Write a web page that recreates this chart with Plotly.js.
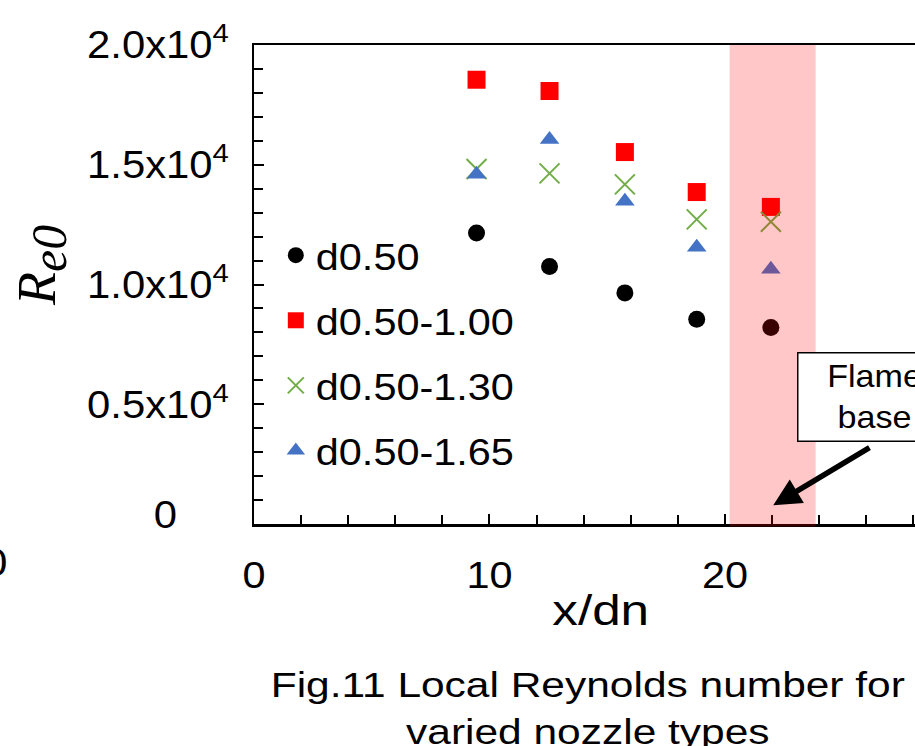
<!DOCTYPE html>
<html>
<head>
<meta charset="utf-8">
<script src="https://cdn.plot.ly/plotly-3.0.1.min.js"></script>
<style>
html,body{margin:0;padding:0;background:#fff;overflow:hidden;}
#chart{width:915px;height:746px;}
</style>
</head>
<body>
<div id="chart"></div>
<script>
// x/dn positions
const xPos = [9.45, 12.55, 15.75, 18.8, 21.95];
// series values (Re0)
const seriesNames = ["d0.50", "d0.50-1.00", "d0.50-1.30", "d0.50-1.65"];
const reD050      = [12150, 10750, 9650, 8550, 8200];
const reD050_100  = [18550, 18080, 15530, 13860, 13240];
const reD050_130  = [14820, 14640, 14180, 12720, 12620];
const reD050_165  = [14600, 16050, 13480, 11560, 10640];
// axis ticks
const yTickVals = [0, 5000, 10000, 15000, 20000];
const yTickText = ["0", "0.5x10<sup>4</sup>", "1.0x10<sup>4</sup>", "1.5x10<sup>4</sup>", "2.0x10<sup>4</sup>"];
const xTickVals = [0, 10, 20];
const xTickText = ["0", "10", "20"];
// flame base band (x/dn)
const bandX = [20.2, 23.85];
// arrow tip / tail
const arrowTip = [22.05, 780];
const arrowTail = [26.2, 3230];

const FONT = "Liberation Sans, Arial, sans-serif";

const traces = [
  {x: xPos, y: reD050, name: seriesNames[0], legendgroup: "a", mode: "markers", type: "scatter",
   marker: {symbol: "circle", size: 17, color: "#000000"}},
  {x: xPos, y: reD050_100, name: seriesNames[1], legendgroup: "b", mode: "markers", type: "scatter",
   marker: {symbol: "square", size: 18, color: "#FF0000"}},
  {x: xPos, y: reD050_130, name: seriesNames[2], legendgroup: "c", mode: "markers", type: "scatter",
   marker: {symbol: "x-thin-open", size: 20, color: "#70AD47", line: {color: "#70AD47", width: 2}}},
  {x: xPos, y: reD050_165, name: seriesNames[3], legendgroup: "d", mode: "markers", type: "scatter",
   marker: {symbol: "triangle-up", size: 17, color: "#4472C4"}}
];

const layout = {
  width: 915, height: 746,
  margin: {l: 254, r: 0, t: 45, b: 222},
  paper_bgcolor: "#ffffff", plot_bgcolor: "#ffffff",
  font: {family: FONT, color: "#000000", size: 38},
  showlegend: true,
  legend: {
    x: 0.033, y: 0.625, xanchor: "left", yanchor: "top",
    bgcolor: "rgba(0,0,0,0)", borderwidth: 0,
    font: {family: FONT, size: 37, color: "#000000"},
    traceorder: "grouped", tracegroupgap: 14
  },
  xaxis: {
    range: [0, 28.07],
    tickmode: "array", tickvals: xTickVals, ticktext: xTickText,
    ticks: "inside", ticklen: 10, tickwidth: 2, tickcolor: "#000",
    minor: {tickmode: "linear", tick0: 0, dtick: 2, ticks: "inside", ticklen: 9, tickwidth: 2, tickcolor: "#000"},
    showline: true, linecolor: "#000", linewidth: 2.5, mirror: true,
    showgrid: false, zeroline: false,
    ticklabelstandoff: 17,
    tickfont: {family: FONT, size: 37, color: "#000"}
  },
  yaxis: {
    range: [0, 20000],
    tickmode: "array", tickvals: yTickVals, ticktext: yTickText,
    ticks: "inside", ticklen: 10, tickwidth: 2, tickcolor: "#000",
    minor: {tickmode: "linear", tick0: 0, dtick: 1000, ticks: "inside", ticklen: 9, tickwidth: 2, tickcolor: "#000"},
    showline: true, linecolor: "#000", linewidth: 2.5,
    showgrid: false, zeroline: false,
    ticklabelstandoff: 15,
    tickfont: {family: FONT, size: 38, color: "#000"}
  },
  shapes: [
    {type: "rect", xref: "x", yref: "paper", x0: bandX[0], x1: bandX[1], y0: -0.005, y1: 1,
     fillcolor: "rgba(255,0,0,0.22)", line: {width: 0}, layer: "above"}
  ],
  annotations: [
    {text: "x/dn", xref: "paper", yref: "paper", x: (600-254)/661, y: -(610-524)/479,
     xanchor: "center", yanchor: "middle", showarrow: false,
     font: {family: FONT, size: 42, color: "#000"}},
    {text: "<i>R</i><sub><span style=\"font-size:50px\"><i>e0</i></span></sub>", xref: "paper", yref: "paper",
     x: (42-254)/661, y: (524-265)/479,
     xanchor: "center", yanchor: "middle", showarrow: false, textangle: -90,
     font: {family: "Liberation Serif, Times New Roman, serif", size: 54, color: "#000"}},
    {text: "0", xref: "paper", yref: "paper", x: (8-254)/661, y: -(563-524)/479,
     xanchor: "right", yanchor: "middle", showarrow: false,
     font: {family: FONT, size: 38, color: "#000"}},
    {text: "Fig.11 Local Reynolds number for<br>varied nozzle types", xref: "paper", yref: "paper",
     x: (588-254)/661, y: -(662-524)/479, xanchor: "center", yanchor: "top", showarrow: false,
     align: "center", font: {family: FONT, size: 36, color: "#000"}},
    {text: "Flame<br>base", xref: "paper", yref: "paper", x: (797-254)/661, y: (524-352)/479,
     xanchor: "left", yanchor: "top", showarrow: false, align: "center", width: 140,
     bgcolor: "#ffffff", bordercolor: "#000", borderwidth: 1.5, borderpad: 6,
     font: {family: FONT, size: 31, color: "#000"}},
    {text: "", xref: "x", yref: "y", x: arrowTip[0], y: arrowTip[1],
     axref: "x", ayref: "y", ax: arrowTail[0], ay: arrowTail[1],
     showarrow: true, arrowhead: 2, arrowsize: 1.0, arrowwidth: 5.5, arrowcolor: "#000", standoff: 0}
  ]
};

// horizontal widening of text glyphs (reference text is drawn wider than the font's default)
function widen(t, f, mode) {
  const m = t.transform && t.transform.baseVal.consolidate();
  const mat = m ? m.matrix : null;
  if (mat && (Math.abs(mat.b) > 1e-6 || Math.abs(mat.c) > 1e-6)) return;
  const bb = t.getBBox();
  if (!bb.width) return;
  let ax;
  if (mode === "end") ax = bb.x + bb.width;
  else if (mode === "start") ax = bb.x;
  else ax = bb.x + bb.width / 2;
  const px = mat ? mat.a * ax + mat.e : ax;
  const g = document.createElementNS("http://www.w3.org/2000/svg", "g");
  g.setAttribute("transform", "translate(" + px + ",0) scale(" + f + ",1) translate(" + (-px) + ",0)");
  t.parentNode.insertBefore(g, t);
  g.appendChild(t);
}

Plotly.newPlot("chart", traces, layout, {displayModeBar: false, staticPlot: true}).then(function (gd) {
  gd.querySelectorAll(".ytick text").forEach(function (t) {
    if ((t.textContent || "").trim() === "0") {
      t.setAttribute("y", parseFloat(t.getAttribute("y") || 0) - 9);
      t.setAttribute("x", parseFloat(t.getAttribute("x") || 0) - 52);
    }
    widen(t, 1.1, "end");
  });
  gd.querySelectorAll(".xtick text").forEach(function (t) { widen(t, 1.12, "middle"); });
  const sb = gd.querySelector(".legend .scrollbox");
  if (sb) sb.removeAttribute("clip-path");
  gd.querySelectorAll(".legend .legendtext").forEach(function (t) { widen(t, 1.12, "start"); });
  const annF = {0: 1.22, 2: 1.12, 3: 1.18, 4: 1.1};
  gd.querySelectorAll("g.annotation").forEach(function (a) {
    const i = a.getAttribute("data-index");
    const f = annF[i];
    if (!f) return;
    const t = a.querySelector("text.annotation-text");
    if (t) widen(t, f, "middle");
  });
});
</script>
</body>
</html>
